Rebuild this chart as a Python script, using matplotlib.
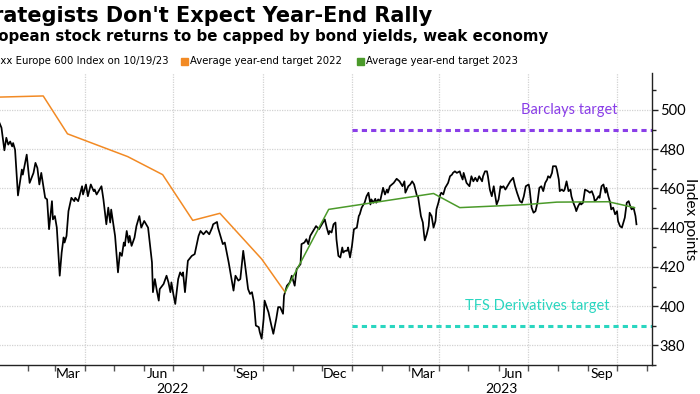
import matplotlib
matplotlib.use("Agg")
import matplotlib.pyplot as plt
import matplotlib.dates as mdates
import matplotlib.transforms as mtransforms
from matplotlib.patches import Rectangle
import numpy as np

# ---------------- data ----------------
start_date = np.datetime64('2022-01-01')

# Stoxx Europe 600 (days since 2022-01-01, index level)
stoxx_days = [2, 4, 7, 9, 11, 13, 15, 16, 18, 21, 25, 26, 30, 33, 37, 39, 41, 43, 45, 49,
              51, 53, 56, 57, 59, 61, 64, 66, 68, 69, 71, 73, 76, 79, 80, 83, 87, 88, 91, 93,
              96, 99, 100, 102, 105, 107, 109, 112, 114, 116, 117, 121, 124, 126, 128, 130, 131, 133, 135, 136,
              138, 141, 143, 146, 148, 151, 153, 155, 159, 160, 162, 164, 166, 167, 171, 174, 176, 178, 179, 181,
              183, 186, 188, 190, 191, 193, 196, 200, 203, 207, 209, 212, 215, 218, 221, 222, 226, 227, 229, 232,
              234, 238, 243, 245, 248, 250, 253, 255, 258, 260, 262, 264, 266, 269, 270, 272, 274, 275, 279, 282,
              284, 287, 289, 291, 294, 295, 298, 301, 303, 306, 308, 312, 313, 316, 318, 320, 322, 325, 328, 331,
              334, 337, 339, 341, 342, 344, 346, 348, 349, 351, 353, 355, 356, 358, 360, 361, 363, 365, 367, 370,
              372, 373, 375, 377, 378, 380, 382, 384, 385, 387, 389, 390, 392, 394, 397, 399, 401, 402, 404, 408,
              411, 414, 417, 419, 420, 423, 425, 427, 429, 432, 433, 436, 438, 439, 440, 442, 444, 445, 447, 449,
              451, 452, 454, 456, 457, 459, 461, 463, 464, 466, 468, 469, 471, 473, 476, 477, 479, 480, 483, 486,
              488, 490, 492, 494, 496, 499, 500, 502, 504, 505, 507, 509, 511, 512, 514, 516, 518, 519, 521, 523,
              525, 528, 531, 533, 535, 538, 540, 542, 544, 547, 548, 550, 552, 554, 556, 558, 560, 562, 564, 566,
              567, 569, 571, 572, 575, 576, 578, 579, 581, 583, 584, 586, 588, 590, 591, 593, 595, 596, 598, 600,
              601, 603, 605, 608, 610, 612, 614, 615, 617, 619, 620, 622, 624, 626, 627, 629, 631, 632, 634, 636,
              638, 639, 641, 643, 645, 646, 648, 650, 651, 653, 655, 657, 658]
stoxx_vals = [493.3, 490.9, 479.4, 485.8, 482.3, 483.9, 481.4, 483.1, 479.7, 456.4, 469.6, 467.0, 477.2, 462.8, 467.9, 473.0, 470.4, 462.0, 467.9, 455.2,
              454.4, 439.2, 453.5, 444.2, 445.9, 440.0, 415.5, 427.3, 435.0, 432.4, 435.8, 448.4, 455.2, 453.5, 455.2, 453.5, 461.1, 456.9, 462.0, 456.0,
              462.0, 458.6, 459.4, 456.9, 459.4, 461.1, 454.4, 441.7, 450.2, 442.6, 449.2, 435.8, 417.2, 427.3, 425.6, 432.4, 430.7, 438.3, 432.4, 435.8,
              430.7, 434.9, 440.8, 445.9, 440.0, 443.4, 441.7, 440.0, 422.3, 407.1, 413.8, 407.9, 402.8, 408.7, 411.3, 415.5, 412.1, 407.1, 412.1, 406.2,
              401.1, 413.8, 417.2, 415.5, 417.2, 407.1, 423.1, 425.6, 426.5, 435.8, 438.3, 436.6, 438.3, 436.6, 440.0, 441.7, 442.9, 440.0, 436.6, 431.6,
              432.4, 422.3, 407.9, 415.5, 413.0, 413.8, 428.2, 420.6, 408.7, 406.2, 407.1, 402.0, 390.1, 389.3, 386.8, 383.4, 393.5, 402.8, 396.9, 390.1,
              385.9, 393.5, 399.5, 399.5, 396.1, 405.3, 410.4, 412.1, 415.5, 410.4, 418.9, 421.4, 431.6, 432.4, 434.1, 431.6, 435.8, 438.3, 440.8, 439.2,
              441.7, 444.2, 440.0, 436.6, 438.3, 437.5, 441.7, 442.6, 434.1, 425.6, 424.8, 429.9, 427.3, 428.2, 428.2, 429.9, 424.8, 430.7, 439.2, 440.0,
              445.9, 446.8, 450.2, 451.8, 452.7, 456.0, 457.8, 451.8, 454.4, 452.7, 454.7, 452.7, 454.4, 453.5, 460.3, 456.9, 459.4, 457.8, 461.1, 462.8,
              464.9, 463.6, 461.1, 463.6, 457.8, 461.1, 462.0, 463.6, 462.0, 456.0, 456.0, 445.9, 442.6, 437.5, 433.5, 436.6, 440.8, 447.6, 445.9, 440.0,
              443.4, 449.3, 452.7, 456.9, 457.8, 456.9, 460.3, 462.0, 462.8, 466.2, 467.0, 467.9, 468.7, 467.9, 468.7, 467.0, 464.5, 467.9, 462.8, 461.1,
              466.2, 463.6, 465.4, 463.6, 466.2, 463.6, 466.2, 468.7, 468.7, 466.2, 459.4, 456.0, 461.1, 457.8, 451.8, 454.4, 461.1, 460.3, 461.1, 459.4,
              461.1, 463.6, 465.4, 461.1, 457.8, 453.5, 452.7, 456.0, 461.1, 462.0, 459.4, 450.2, 447.6, 448.4, 452.7, 460.3, 461.1, 458.6, 462.8, 464.5,
              466.2, 465.4, 467.9, 471.3, 471.3, 469.6, 464.5, 458.6, 459.4, 458.6, 459.4, 463.6, 458.6, 459.4, 456.0, 452.7, 450.2, 448.4, 451.0, 452.7,
              451.8, 452.7, 459.4, 458.6, 457.8, 458.6, 456.0, 453.5, 454.4, 456.0, 455.2, 461.1, 462.0, 457.8, 460.3, 456.0, 452.7, 449.3, 450.2, 446.8,
              448.4, 443.4, 440.8, 440.0, 443.4, 445.1, 452.7, 453.5, 451.8, 449.3, 450.2, 445.9, 441.7]

# Average year-end targets
target22_days = [0, 47, 72, 134, 170, 201, 229, 272, 296]
target22_vals = [506.5, 507.1, 487.8, 476.2, 467.0, 443.7, 447.3, 424.0, 407.2]
target23_days = [296, 341, 449, 476, 543, 576, 629, 656]
target23_vals = [407.2, 449.3, 457.4, 450.2, 451.7, 453.0, 453.2, 450.2]

# Strategist targets
barclays_target = 490
tfs_target = 390
targets_from = np.datetime64('2023-01-01')

month_labels_dates = ['2022-03-15', '2022-06-15', '2022-09-15', '2022-12-15',
                      '2023-03-15', '2023-06-15', '2023-09-15']
years = ['2022', '2023']

title = "Strategists Don't Expect Year-End Rally"
subtitle = "European stock returns to be capped by bond yields, weak economy"
legend_labels = ["Stoxx Europe 600 Index on 10/19/23",
                 "Average year-end target 2022",
                 "Average year-end target 2023"]

# ---------------- styling ----------------
plt.rcParams['font.family'] = ['Lato', 'DejaVu Sans']
BLACK = '#000000'
ORANGE = '#f28a24'
GREEN = '#4b9a2a'
PURPLE = '#8a3ee8'
CYAN = '#2ad6c0'
GRID = '#d2d2d2'

W, H = 700, 394
fig = plt.figure(figsize=(W / 100, H / 100), dpi=100)
fig.patch.set_facecolor('white')

ax_l, ax_r, ax_t, ax_b = -6.3, 652, 73, 365
ax = fig.add_axes([ax_l / W, 1 - ax_b / H, (ax_r - ax_l) / W, (ax_b - ax_t) / H])


def to_dates(days):
    return start_date + np.array(days).astype('timedelta64[D]')


ax.plot(to_dates(stoxx_days), stoxx_vals, color=BLACK, lw=1.25, zorder=3)
ax.plot(to_dates(target22_days), target22_vals, color=ORANGE, lw=1.1, zorder=4)
ax.plot(to_dates(target23_days), target23_vals, color=GREEN, lw=1.1, zorder=4)

x_left = start_date + np.timedelta64(-4, 'D')
x_right = start_date + np.timedelta64(674, 'D')
ax.set_xlim(x_left, x_right)
ax.set_ylim(370.6, 518.8)

ax.hlines(barclays_target, targets_from, x_right, colors=PURPLE, lw=2.2,
          linestyles=(0, (1.7, 1.35)), zorder=2)
ax.hlines(tfs_target, targets_from, x_right, colors=CYAN, lw=2.2,
          linestyles=(0, (1.7, 1.35)), zorder=2)
ax.text(np.datetime64('2023-08-13'), 500, 'Barclays target', color=PURPLE,
        fontsize=10.5, ha='center', va='center')
ax.text(np.datetime64('2023-07-11'), 400, 'TFS Derivatives target', color=CYAN,
        fontsize=10.5, ha='center', va='center')

# spines
for s in ['left', 'top']:
    ax.spines[s].set_visible(False)
for s in ['bottom', 'right']:
    ax.spines[s].set_color('#222222')
    ax.spines[s].set_linewidth(1.0)

# y axis
ax.yaxis.tick_right()
ax.yaxis.set_label_position('right')
ax.set_yticks(np.arange(380, 501, 20))
ax.set_yticks(np.arange(370, 520, 10), minor=True)
ax.tick_params(axis='y', which='major', length=4, width=1, color='#222222',
               labelsize=10.5, pad=1.5)
ax.tick_params(axis='y', which='minor', length=3, width=1, color='#222222')
ax.set_ylabel('Index points', rotation=270, fontsize=11, va='center', ha='center')
ax.yaxis.set_label_coords((690 - ax_l) / (ax_r - ax_l), 0.5)

# x axis: quarter gridlines, monthly ticks
ax.xaxis.set_major_locator(mdates.MonthLocator(bymonth=[1, 4, 7, 10]))
ax.xaxis.set_major_formatter(plt.NullFormatter())
ax.xaxis.set_minor_locator(mdates.MonthLocator())
ax.tick_params(axis='x', which='both', length=4, width=1, color='#555555')
ax.grid(True, which='major', axis='both', color=GRID, linestyle=(0, (1, 1)), lw=0.9)
ax.set_axisbelow(True)

sec = ax.secondary_xaxis('bottom')
sec.set_xticks(np.array(month_labels_dates, dtype='datetime64[D]'))
sec.xaxis.set_major_formatter(mdates.DateFormatter('%b'))
sec.tick_params(length=0, labelsize=10, pad=2.5)
sec.spines['bottom'].set_visible(False)

# year labels centred on visible span of each year
trans = mtransforms.blended_transform_factory(ax.transData, ax.transAxes)
y_bounds = [(x_left, np.datetime64('2023-01-01')), (np.datetime64('2023-01-01'), x_right)]
for yr, (a, b) in zip(years, y_bounds):
    mid = a + (b - a) / 2
    ax.text(mid, -0.083, yr, transform=trans, ha='center', va='center', fontsize=10)

# title / subtitle (cropped at left like the reference)
fig.text(432 / W, 1 - 16 / H, title, fontsize=15, fontweight='bold',
         family='DejaVu Sans', ha='right', va='center')
fig.text(548 / W, 1 - 37 / H, subtitle, fontsize=10.8, fontweight='bold',
         family='DejaVu Sans', ha='right', va='center')

# legend
ly = 1 - 61 / H
lfont = dict(fontsize=7.3, family='DejaVu Sans', va='center')
fig.text(169 / W, ly, legend_labels[0], ha='right', **lfont)
sq = 7
fig.patches.append(Rectangle((181 / W, ly - sq / 2 / H), sq / W, sq / H,
                             transform=fig.transFigure, color=ORANGE))
fig.text(190 / W, ly, legend_labels[1], ha='left', **lfont)
fig.patches.append(Rectangle((357 / W, ly - sq / 2 / H), sq / W, sq / H,
                             transform=fig.transFigure, color=GREEN))
fig.text(366 / W, ly, legend_labels[2], ha='left', **lfont)

fig.savefig('out.png', dpi=100)
